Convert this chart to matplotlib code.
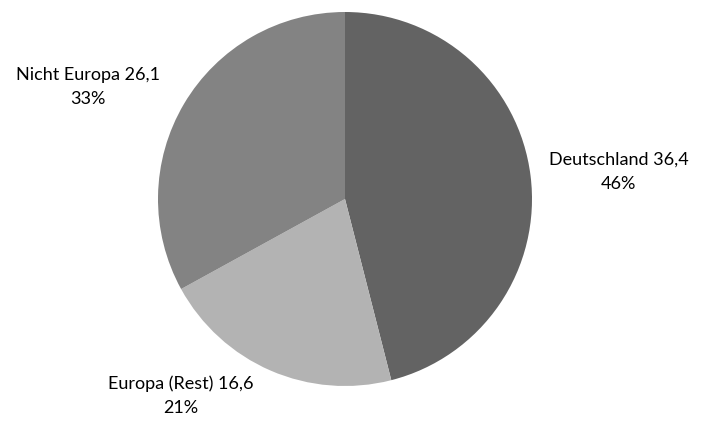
import numpy as np
import matplotlib
matplotlib.use("Agg")
import matplotlib.pyplot as plt

# data
categories = ["Deutschland", "Europa (Rest)", "Nicht Europa"]
values = [36.4, 16.6, 26.1]
colors = ["#636363", "#b3b3b3", "#838383"]

plt.rcParams['font.family'] = ['Lato', 'DejaVu Sans']

fig = plt.figure(figsize=(7.12, 4.29), dpi=100)
# square axes in pixels: centre (345, 199), radius 187
ax = fig.add_axes([158 / 712, 43 / 429, 374 / 712, 374 / 429])

wedges, _ = ax.pie(values, colors=colors, startangle=90, counterclock=False,
                   radius=1, wedgeprops=dict(linewidth=0))
ax.set_xlim(-1, 1)
ax.set_ylim(-1, 1)
ax.axis("off")

# label placement: (angle shift in degrees, radial distance)
label_pos = [(-1.5, 1.47), (-16.5, 1.37), (7.1, 1.50)]

total = sum(values)
for w, cat, val, (da, dist) in zip(wedges, categories, values, label_pos):
    mid = np.deg2rad((w.theta1 + w.theta2) / 2 + da)
    x, y = dist * np.cos(mid), dist * np.sin(mid)
    txt = f"{cat} {val:.1f}".replace(".", ",") + f"\n{val / total * 100:.0f}%"
    ax.text(x, y, txt, ha="center", va="center", fontsize=13,
            linespacing=1.6, color="#000000", clip_on=False)

fig.savefig("out.png", dpi=100)
